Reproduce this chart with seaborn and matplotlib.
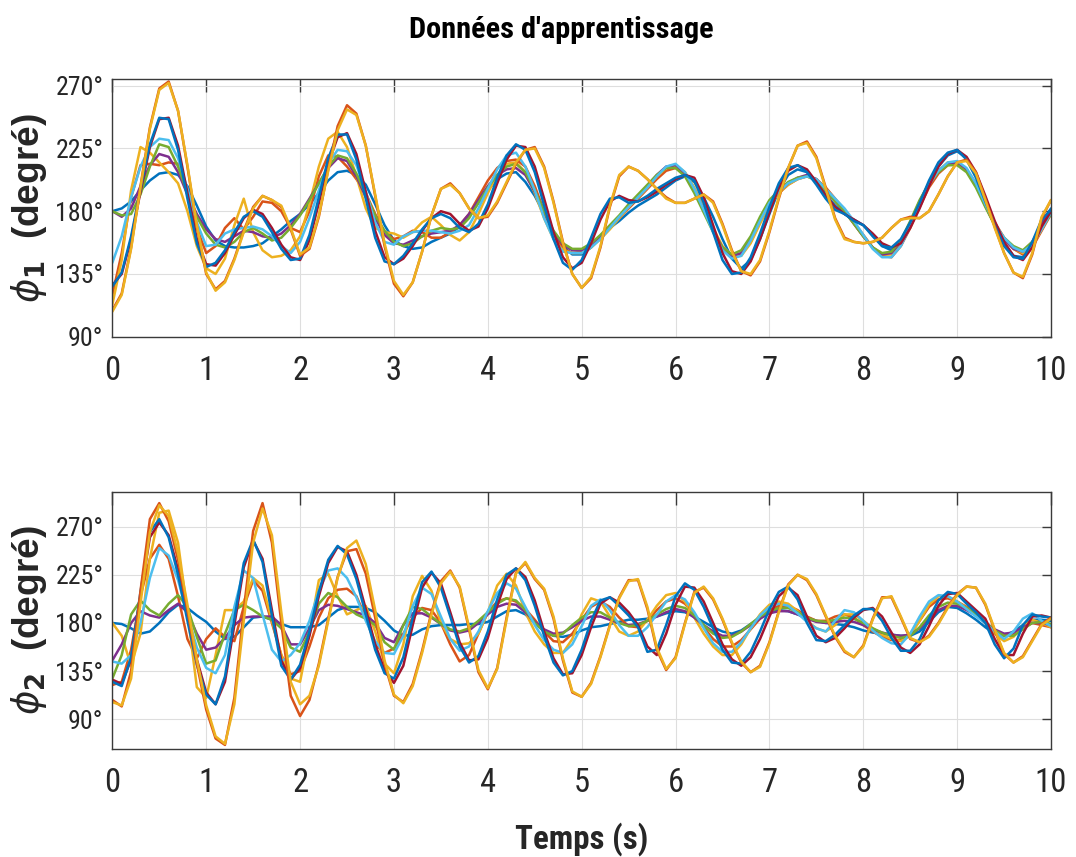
import numpy as np
import pandas as pd
import matplotlib
matplotlib.use("Agg")
import matplotlib.pyplot as plt
from matplotlib import font_manager as fm
from pathlib import Path
import seaborn as sns

# ── Time axis (s) ────────────────────────────────────────────
t = np.round(np.linspace(0, 10, 101), 1)

# ── phi_1 curves (deg), every 0.1 s ────
phi1_c1 = [180,182,187,195,202,207,208,206,198,184,
           169,159,155,154,154,155,157,162,167,173,
           178,185,193,202,208,209,206,199,185,170,
           159,155,153,154,158,161,164,169,177,186,
           195,203,207,208,201,191,178,165,155,149,
           149,154,161,168,173,179,184,188,192,197,
           202,205,201,190,176,160,146,139,145,160,
           178,195,206,210,208,201,192,184,178,174,
           170,163,155,152,157,170,185,200,212,220,
           223,218,205,188,171,157,148,147,157,172,
           182]
phi1_c2 = [120,150,190,213,214,213,215,214,195,168,
           150,155,168,175,167,176,187,186,180,168,
           165,180,205,220,219,212,203,193,178,165,
           160,162,166,165,161,161,165,170,178,190,
           202,211,216,217,212,198,180,164,153,150,
           151,155,161,168,175,182,189,196,203,209,
           211,207,196,182,167,154,148,149,158,172,
           185,193,199,203,205,203,197,189,181,172,
           163,154,148,147,155,168,183,197,207,213,
           214,210,200,186,172,161,153,149,154,166,
           178]
phi1_c3 = [113,145,195,226,222,215,208,200,180,155,
           139,135,146,170,189,165,152,147,148,152,
           162,185,212,232,237,226,205,182,168,165,
           164,161,165,172,176,170,163,159,165,178,
           193,206,214,215,208,193,175,160,152,150,
           150,154,160,167,175,183,190,197,205,211,
           213,208,197,183,168,155,148,148,157,171,
           184,193,199,203,205,203,196,188,180,171,
           162,154,149,149,157,170,185,199,209,215,
           215,209,198,184,170,160,153,150,155,167,
           180]
phi1_c4 = [180,176,182,198,213,221,219,208,192,178,
           167,160,158,162,166,165,162,161,164,170,
           178,189,200,211,218,216,205,190,175,163,
           157,156,159,162,164,165,166,170,178,188,
           198,206,210,211,206,194,179,165,156,152,
           152,156,162,169,176,184,191,198,206,212,
           213,207,195,181,166,154,148,150,160,174,
           186,194,200,204,206,203,195,187,180,171,
           162,154,149,150,158,172,187,200,209,214,
           215,210,199,184,170,160,153,151,158,170,
           180]
phi1_c5 = [180,177,178,192,212,228,226,212,193,176,
           164,156,154,158,165,168,164,159,161,168,
           177,188,200,212,220,218,207,192,177,166,
           158,155,157,162,166,168,167,168,175,186,
           197,206,212,214,208,195,180,166,157,153,
           153,157,163,170,177,185,192,199,206,211,
           211,205,193,179,165,154,149,152,162,176,
           188,195,201,204,205,202,195,187,180,171,
           162,154,150,151,159,173,188,200,208,213,
           213,208,197,183,170,161,155,152,158,168,
           178]
phi1_c6 = [143,162,190,212,226,232,231,218,196,172,
           155,156,164,167,168,169,167,162,155,150,
           158,175,195,214,224,223,213,194,172,158,
           156,162,165,166,166,165,164,166,170,182,
           196,210,220,222,212,195,175,160,151,150,
           150,154,160,168,176,183,190,197,205,212,
           214,208,196,181,165,152,146,148,159,173,
           186,194,200,203,205,203,196,189,182,173,
           163,153,147,147,155,169,185,199,209,215,
           216,211,200,185,171,161,154,151,156,167,
           179]
phi1_c7 = [127,135,160,194,226,246,247,227,193,160,
           142,141,150,163,175,181,178,168,156,147,
           145,159,186,214,233,236,221,194,166,147,
           142,146,155,166,175,180,178,171,166,169,
           182,200,217,227,226,212,189,165,147,139,
           143,157,174,187,191,188,187,190,194,199,
           203,206,204,190,170,150,137,135,144,160,
           179,197,209,213,210,201,191,183,178,174,
           170,164,157,154,157,168,182,198,212,221,
           224,219,208,191,173,158,148,145,154,169,
           180]
phi1_c8 = [126,136,162,196,228,247,246,224,189,157,
           140,143,152,165,176,180,176,165,153,145,
           146,163,190,218,235,235,217,189,161,144,
           142,148,157,167,175,178,175,168,165,171,
           185,204,220,228,224,208,184,160,143,138,
           145,161,178,189,190,186,187,191,196,200,
           204,206,202,186,165,145,135,136,147,164,
           183,200,211,213,208,199,189,181,178,173,
           170,162,155,154,160,172,186,202,215,222,
           224,217,204,187,170,155,147,146,158,174,
           181]
phi1_c9 = [109,121,154,198,240,268,273,252,212,169,
           135,124,130,146,166,183,191,188,183,167,
           148,153,176,210,241,256,250,227,191,155,
           128,119,129,151,177,196,200,193,182,175,
           176,186,200,214,224,226,212,187,158,135,
           125,132,154,183,205,212,209,203,196,190,
           186,186,189,192,187,171,152,137,134,144,
           165,189,211,227,230,219,197,175,161,158,
           157,158,161,168,174,176,175,180,192,205,
           215,217,208,189,169,150,136,132,149,175,
           188]
phi1_c10 = [108,120,153,197,239,267,272,252,213,170,
            136,123,129,145,165,182,191,188,184,168,
            149,154,177,209,238,253,249,227,192,157,
            130,120,129,151,177,196,199,193,182,175,
            177,187,201,215,224,225,211,186,157,135,
            125,133,155,184,206,212,209,203,196,189,
            186,186,189,192,186,170,151,137,135,145,
            166,190,211,227,229,218,196,174,160,158,
            157,158,161,168,174,175,175,180,192,205,
            215,216,207,188,168,150,136,133,150,176,
            188]

# ── phi_2 curves (deg) ───────────────────────────────────────
phi2_c1 = [180,179,175,170,172,180,190,197,194,187,
           181,172,165,167,176,185,186,183,179,176,
           176,176,178,185,192,195,195,194,190,182,
           173,168,169,174,177,178,178,178,179,179,
           181,186,191,192,188,180,172,168,167,169,
           173,176,177,179,181,183,183,184,186,189,
           191,190,186,181,176,172,170,173,179,185,
           190,192,191,188,185,182,180,179,178,176,
           173,171,170,169,168,168,172,181,190,195,
           194,189,183,176,170,168,172,178,183,183,
           182]
phi2_c2 = [122,125,155,205,240,253,240,205,165,147,
           165,175,167,163,195,220,210,180,150,132,
           135,158,185,203,211,212,205,185,160,152,
           156,170,185,194,192,180,160,144,150,170,
           190,200,203,200,193,183,172,163,162,170,
           183,195,200,195,185,177,176,182,192,200,
           203,198,188,176,165,158,158,164,174,184,
           192,196,196,192,186,182,182,186,188,185,
           178,172,167,164,164,170,182,195,202,203,
           200,195,189,181,173,168,170,176,180,178,
           176]
phi2_c3 = [180,168,140,170,240,283,285,255,190,120,
           110,150,192,192,200,222,215,182,150,128,
           125,170,220,226,205,188,192,196,172,142,
           133,160,205,224,210,180,165,160,161,170,
           190,215,226,215,190,172,160,152,152,165,
           188,203,200,186,172,168,172,183,196,206,
           208,200,185,170,158,150,150,160,175,188,
           197,200,198,191,182,175,172,178,188,188,
           182,175,169,165,163,168,182,197,205,205,
           200,194,188,180,170,163,167,177,183,180,
           176]
phi2_c4 = [145,160,180,191,187,185,192,198,190,170,
           155,157,166,178,185,186,186,186,178,160,
           160,175,192,197,196,193,190,187,180,166,
           162,178,189,189,185,179,173,171,173,180,
           188,195,198,197,190,181,174,170,171,176,
           182,186,186,183,180,178,179,182,186,190,
           193,191,185,178,172,168,168,172,178,184,
           189,191,191,188,184,181,180,181,182,181,
           178,174,171,169,168,169,175,184,192,196,
           196,192,187,180,174,170,171,176,180,180,
           178]
phi2_c5 = [128,150,188,201,192,187,198,206,195,167,
           142,145,170,192,197,192,186,183,175,157,
           153,172,198,208,204,195,188,184,178,162,
           155,178,195,193,186,179,174,172,175,182,
           190,198,203,201,192,180,172,168,170,178,
           185,190,190,185,180,177,178,182,188,193,
           196,194,187,178,170,166,167,172,179,186,
           191,194,194,190,185,182,181,183,185,184,
           180,175,171,168,166,168,176,187,195,199,
           198,194,188,181,173,168,168,174,180,181,
           179]
phi2_c6 = [144,142,150,180,222,250,243,220,188,157,
           138,133,150,195,229,222,188,155,144,150,
           161,182,210,229,231,222,204,182,163,152,
           151,168,196,213,207,186,165,154,158,172,
           191,208,217,212,195,178,164,155,152,160,
           177,196,202,192,178,168,168,176,188,200,
           206,202,190,175,161,153,153,162,175,187,
           195,198,196,189,181,175,172,182,192,190,
           182,173,166,161,160,170,186,200,206,205,
           200,193,186,180,172,165,172,184,189,182,
           177]
phi2_c7 = [127,123,146,205,260,274,262,230,188,146,
           115,104,125,178,232,257,240,192,145,127,
           138,168,205,236,251,247,225,193,160,136,
           124,140,178,213,227,217,190,162,145,146,
           166,196,221,231,223,201,172,147,132,133,
           150,176,198,204,199,190,178,158,150,170,
           197,214,213,200,180,160,146,140,148,165,
           186,205,213,206,186,168,162,166,175,185,
           192,194,186,171,157,152,160,177,196,207,
           208,200,192,184,165,150,150,170,186,187,
           185]
phi2_c8 = [125,121,148,209,265,277,260,225,182,141,
           113,104,130,184,236,258,237,187,140,127,
           141,172,209,239,252,244,221,188,155,133,
           128,148,185,218,228,213,186,158,143,149,
           172,202,225,231,220,196,168,143,131,135,
           155,182,201,204,196,187,176,153,155,178,
           205,217,211,195,175,155,143,142,153,172,
           193,209,214,202,180,164,163,169,178,187,
           193,193,182,166,154,154,165,184,201,209,
           207,198,190,180,160,147,156,178,188,186,
           185]
phi2_c9 = [108,102,135,210,277,292,275,239,192,142,
           99,72,66,110,192,266,292,255,180,112,
           93,108,142,184,223,247,249,226,185,142,
           112,106,123,154,190,219,229,213,174,134,
           118,138,185,227,236,221,211,184,145,115,
           111,124,149,178,204,220,220,193,155,136,
           148,180,209,213,202,183,161,143,134,140,
           162,191,216,225,220,206,186,167,153,148,
           159,184,204,204,185,165,162,168,180,195,
           207,214,213,197,173,151,143,149,164,179,
           185]
phi2_c10 = [106,103,128,198,265,290,280,245,197,146,
            103,74,67,104,182,255,287,262,190,125,
            104,112,140,182,222,250,257,235,192,145,
            113,105,121,152,188,217,228,214,176,136,
            119,137,183,226,237,222,212,186,147,116,
            111,123,148,177,203,219,221,195,157,137,
            147,179,208,214,203,184,162,144,134,139,
            161,190,215,225,221,207,187,168,154,148,
            158,183,203,205,186,166,162,167,179,194,
            206,214,213,198,174,152,143,148,163,178,
            184]

phi1_curves = [phi1_c1, phi1_c2, phi1_c3, phi1_c4, phi1_c5,
               phi1_c6, phi1_c7, phi1_c8, phi1_c9, phi1_c10]
phi2_curves = [phi2_c1, phi2_c2, phi2_c3, phi2_c4, phi2_c5,
               phi2_c6, phi2_c7, phi2_c8, phi2_c9, phi2_c10]

y_ticks = [90, 135, 180, 225, 270]
x_ticks = list(range(11))

# MATLAB default colour order, cycled over the 10 runs
matlab_colors = ["#0072BD", "#D95319", "#EDB120", "#7E2F8E", "#77AC30",
                 "#4DBEEE", "#A2142F", "#0072BD", "#D95319", "#EDB120"]
curve_names = [f"run{i + 1}" for i in range(10)]
palette = dict(zip(curve_names, matlab_colors))
ink = "#262626"

sns.set_style("white")
plt.rcParams["font.family"] = ["Liberation Sans", "DejaVu Sans"]
plt.rcParams["mathtext.fontset"] = "dejavusans"


# ── look for a condensed face (the picture uses narrow lettering) ─
def find_font(stems):
    files = {Path(f.fname).stem.lower(): f.fname
             for f in fm.fontManager.ttflist}
    for s in stems:
        if s.lower() in files:
            return files[s.lower()]
    return None


narrow_reg = find_font(["LiberationSansNarrow-Regular", "RobotoCondensed-Regular",
                        "DejaVuSansCondensed", "OpenSans_Condensed-Regular"])
narrow_bold = find_font(["LiberationSansNarrow-Bold", "RobotoCondensed-Bold",
                         "DejaVuSansCondensed-Bold", "OpenSans_Condensed-Bold"])


def fprop(bold=False, size=12, condensed=True):
    path = narrow_bold if bold else narrow_reg
    if condensed and path:
        return fm.FontProperties(fname=path, size=size)
    return fm.FontProperties(family=["Liberation Sans", "DejaVu Sans"],
                             weight="bold" if bold else "normal", size=size)


def long_df(curves):
    return pd.DataFrame({
        "t": np.tile(t, len(curves)),
        "phi": np.concatenate([np.asarray(c, float) for c in curves]),
        "run": np.repeat(curve_names, len(t)),
    })


def style_axes(ax, ylim):
    ax.set_xlim(0, 10)
    ax.set_ylim(*ylim)
    ax.set_xlabel("")
    ax.set_ylabel("")
    ax.set_xticks(x_ticks)
    ax.set_xticklabels([str(v) for v in x_ticks], color=ink,
                       fontproperties=fprop(size=23.5))
    ax.set_yticks(y_ticks)
    ax.set_yticklabels([f"{v}°" for v in y_ticks], color=ink,
                       fontproperties=fprop(size=20))
    ax.tick_params(axis="x", direction="in", top=True, length=9.4,
                   width=1.0, color="#3a3a3a", pad=13)
    ax.tick_params(axis="y", direction="in", right=True, length=6.8,
                   width=1.0, color="#3a3a3a", pad=6.5)
    ax.grid(True, color="#dedede", linewidth=0.8)
    ax.set_axisbelow(True)
    for sp in ax.spines.values():
        sp.set_visible(True)
        sp.set_color("#3a3a3a")
        sp.set_linewidth(1.0)


fig = plt.figure(figsize=(10.76, 8.57), dpi=100)
ax1 = fig.add_axes([0.1044, 0.6071, 0.8724, 0.3007])
ax2 = fig.add_axes([0.1044, 0.1264, 0.8724, 0.2999])

for ax, curves, ylim in [(ax1, phi1_curves, (90, 274.8)),
                         (ax2, phi2_curves, (62.5, 302.7))]:
    sns.lineplot(data=long_df(curves), x="t", y="phi", hue="run",
                 palette=palette, estimator=None, legend=False,
                 linewidth=1.8, solid_joinstyle="round", ax=ax)
    style_axes(ax, ylim)

title = fig.text(561 / 1076, 1 - 38 / 857, "Données d'apprentissage",
                 ha="center", va="baseline", color="black",
                 fontproperties=fprop(bold=True, size=22))
xlab = fig.text(581.5 / 1076, 1 - 849 / 857, "Temps (s)", ha="center",
                va="baseline", color=ink,
                fontproperties=fprop(bold=True, size=24))
ylab1 = fig.text(29 / 1076, 1 - 208 / 857, r"$\phi_{\mathbf{1}}$  (degré)",
                 rotation=90, ha="center", va="center", color=ink,
                 fontproperties=fprop(bold=True, size=24, condensed=False))
ylab2 = fig.text(29 / 1076, 1 - 620 / 857, r"$\phi_{\mathbf{2}}$  (degré)",
                 rotation=90, ha="center", va="center", color=ink,
                 fontproperties=fprop(bold=True, size=24, condensed=False))

# scale the texts so their extents match the picture
fig.canvas.draw()
renderer = fig.canvas.get_renderer()
for txt, target in [(title, 305), (xlab, 134)]:
    w = txt.get_window_extent(renderer).width
    txt.set_fontsize(txt.get_fontsize() * target / w)
for txt in (ylab1, ylab2):
    h = txt.get_window_extent(renderer).height
    txt.set_fontsize(txt.get_fontsize() * 190 / h)
for ax in (ax1, ax2):
    lbl = ax.get_xticklabels()[-1]
    w = lbl.get_window_extent(renderer).width
    f = min(1.0, 33 / w)
    for l in ax.get_xticklabels():
        l.set_fontsize(l.get_fontsize() * f)
    lbl = ax.get_yticklabels()[-1]
    w = lbl.get_window_extent(renderer).width
    f = min(1.0, 48 / w)
    for l in ax.get_yticklabels():
        l.set_fontsize(l.get_fontsize() * f)

fig.savefig("out.png", dpi=100)
